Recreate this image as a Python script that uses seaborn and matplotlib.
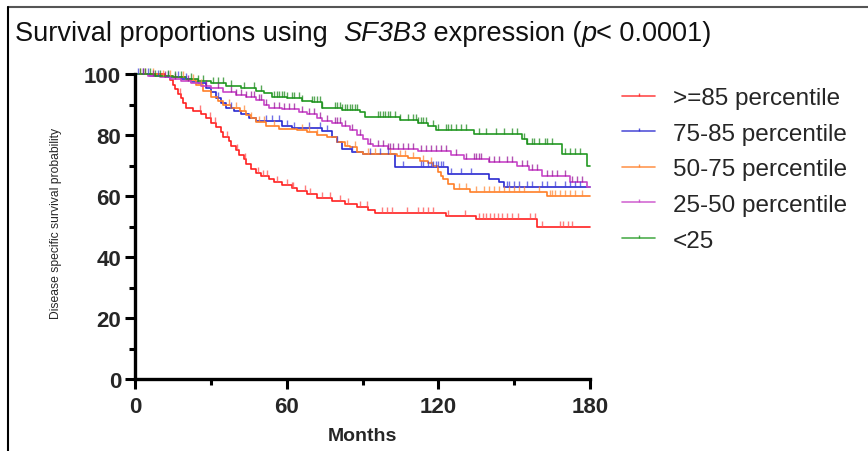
import numpy as np
import pandas as pd
import matplotlib
matplotlib.use("Agg")
import matplotlib.pyplot as plt
from matplotlib.lines import Line2D
import seaborn as sns

sns.set_theme(style="white")
plt.rcParams['font.family'] = ['Liberation Sans', 'DejaVu Sans']

groups = [">=85 percentile", "75-85 percentile", "50-75 percentile", "25-50 percentile", "<25"]
colors = ["#ff2020", "#2a2ad0", "#ff7f27", "#c845c8", "#229922"]
censor_colors = ["#ff5050", "#4040e0", "#ff8a3a", "#9a1a9a", "#1f8a1f"]

# step curves: event times (months) and survival (%) after each event
red_t = [0, 12, 14, 15, 16, 17, 18, 19, 20, 23, 26, 28, 30, 32, 34, 35, 37, 38, 40, 41, 43, 44, 46, 48, 50, 53, 55, 58, 62, 64, 68, 72, 78, 83, 88, 92, 95, 123, 135, 159]
red_s = [100, 99, 98, 96.5, 95, 93.5, 92, 90.5, 89, 88, 87, 85.5, 84, 82.5, 81, 79.5, 78, 76.5, 75, 73.5, 72, 70.5, 69, 67.5, 66.5, 65.5, 64.5, 63.5, 62.5, 61.5, 60.5, 59.5, 58.5, 57.5, 56.5, 55.5, 54.5, 53.5, 52.3, 50]
blue_t = [0, 6, 12, 18, 22, 25, 28, 30, 32, 34, 36, 39, 42, 45, 48, 58, 62, 74, 78, 80, 82, 86, 90, 103, 124, 140, 144, 146]
blue_s = [100, 99.5, 99, 98.5, 97.5, 97, 95.5, 94, 92, 90.5, 89, 88, 87, 85.7, 84.6, 83, 82.2, 81.3, 79.5, 77.7, 75.4, 74.5, 73.8, 69.5, 67.2, 65.5, 64.6, 63]
orange_t = [0, 10, 15, 20, 24, 27, 30, 33, 35, 38, 41.5, 44, 46, 48, 52, 57, 64, 68, 72, 76, 80, 83, 85, 88, 90, 103.5, 108, 112.7, 116, 118, 120, 121, 122, 124, 126, 132.5, 163]
orange_s = [100, 99.5, 99, 98, 96.5, 94.5, 92.5, 91, 90, 89, 88, 86.5, 85.5, 84.3, 83, 82, 81.5, 81, 80, 79.3, 77.7, 76.5, 76, 74.5, 73.8, 73, 72.3, 71.5, 70.8, 70, 68, 66.5, 65.6, 64, 62.3, 61.3, 60]
purple_t = [0, 5, 10, 14, 18, 22, 26, 30, 35, 40, 44, 48, 51, 53, 58, 65, 68, 72, 74, 78, 82, 85, 88, 90, 92, 94, 100, 112, 125, 130, 140, 151, 156, 161, 172, 179]
purple_s = [100, 99.5, 99, 98.5, 97.7, 97, 96, 95.3, 94, 93, 92.5, 91.5, 90, 89, 88.5, 87.5, 87, 85.7, 84.6, 83.8, 83, 81.5, 80, 78.7, 77, 76.4, 75.4, 74.8, 73.5, 72, 71, 70, 68.5, 66.6, 64.6, 63]
green_t = [0, 8, 15, 20, 25, 30, 36, 42, 48, 51, 54, 60, 66, 70, 74, 82, 89, 91, 105, 112, 116, 119, 134, 153, 155, 169, 179]
green_s = [100, 99.5, 99, 98.5, 97.7, 97, 96, 95.3, 94.5, 93.8, 92.5, 92, 91.3, 90.8, 89, 88.3, 87.5, 86, 84.8, 84, 83, 81.5, 80.3, 78.7, 77, 73.8, 70]

# censored observations (months)
red_c = [17.8, 25.7, 29.7, 31.6, 36.3, 40.2, 43.5, 48.8, 50.8, 52.1, 56, 60, 62, 62.6, 67.2, 69.2, 73.8, 77.1, 81.1, 84.4, 89, 91.6, 97.6, 99.6, 101.5, 107.5, 112, 114, 116, 118, 124, 130.5, 136, 137.5, 139, 140.5, 142, 143.5, 145, 147, 149, 151.6, 156.3, 158.2, 160.9, 168, 169.4, 171.4, 172.7]
blue_c = [1, 3, 5, 9, 13, 17, 20, 33, 38, 52, 54, 57, 60, 63, 69, 73, 76, 80, 86, 93, 97, 100, 106, 113, 114, 116, 117, 118, 119, 120, 121, 122, 125, 129, 133, 147, 148, 150, 152, 155, 157, 161, 163, 166, 170, 172, 174, 176]
orange_c = [2, 4, 7, 11, 14, 19, 23, 26, 37, 40, 43, 46, 49, 51, 55, 66, 69, 72, 84, 87, 92, 95, 101, 105, 107, 110, 114, 117, 128, 131, 135, 138, 140, 142, 144, 146, 148, 150, 152, 154, 160, 164, 165, 166, 168, 170, 172, 174, 177]
purple_c = [3, 7, 12, 16, 21, 28, 33, 38, 40, 42, 44, 46, 47, 49, 50, 52, 55, 57, 59, 61, 63, 66, 69, 71, 73, 76, 79, 80, 81, 83, 86, 89, 93, 96, 98, 100, 101, 102, 104, 106, 108, 110, 113, 115, 117, 119, 121, 123, 127, 131, 134, 135, 136, 137, 140, 142, 144, 147, 149, 153, 155, 157, 159, 163, 165, 167, 170, 173, 175, 177]
green_c = [2, 4, 6, 8, 10, 13, 16, 18, 22, 25, 27, 31, 33, 35, 38, 43, 47, 50, 55, 56, 57, 58, 59, 60, 62, 63, 65, 66, 70, 71, 72, 73, 74, 79, 80, 81, 82, 83, 84, 85, 86, 87, 88, 96, 97, 98, 99, 100, 101, 103, 105, 108, 110, 111, 112, 113, 114, 115, 118, 120, 123, 124, 125, 127, 129, 131, 136, 139, 143, 146, 149, 151, 154, 155, 157, 158, 160, 162, 163, 165, 170, 172, 174, 176]

x_ticks = [0, 60, 120, 180]
y_ticks = [0, 20, 40, 60, 80, 100]

steps = [(red_t, red_s), (blue_t, blue_s), (orange_t, orange_s), (purple_t, purple_s), (green_t, green_s)]
cens = [red_c, blue_c, orange_c, purple_c, green_c]
X_END = 180

rows = []
for g, (t, s) in zip(groups, steps):
    for ti, si in zip(list(t) + [X_END], list(s) + [s[-1]]):
        rows.append({"group": g, "t": ti, "s": si})
df = pd.DataFrame(rows)

fig = plt.figure(figsize=(8.68, 4.52), dpi=100)
ax = fig.add_axes([135/868, 1-380/452, 455/868, 305/452])

sns.lineplot(data=df, x="t", y="s", hue="group", hue_order=groups, palette=colors,
             estimator=None, drawstyle="steps-post", linewidth=1.2, ax=ax,
             legend=False, clip_on=False)

tick_marker = [(0, 0), (0, 1)]
for g, (t, s), c, col in zip(groups, steps, cens, censor_colors):
    t = np.asarray(t, float); s = np.asarray(s, float)
    c = np.asarray(c, float)
    idx = np.searchsorted(t, c, side="right") - 1
    ax.plot(c, s[idx], linestyle="none", marker=tick_marker, markersize=8,
            markeredgewidth=1.0, color=col, alpha=0.75, clip_on=False)

ax.set_xlim(0, 180)
ax.set_ylim(0, 100)
ax.set_xticks(x_ticks)
ax.set_yticks(y_ticks)
ax.set_xticks([30, 90, 150], minor=True)
ax.set_yticks([10, 30, 50, 70, 90], minor=True)
ax.set_xticklabels([str(v) for v in x_ticks], fontsize=16, fontweight="bold")
ax.set_yticklabels([str(v) for v in y_ticks], fontsize=16, fontweight="bold")
ax.tick_params(which="major", direction="out", length=7, width=2.2, color="black", pad=3,
               bottom=True, left=True)
ax.tick_params(axis="x", which="major", pad=5)
ax.tick_params(which="minor", direction="out", length=4, width=2.2, color="black",
               bottom=True, left=True)
for sp in ["top", "right"]:
    ax.spines[sp].set_visible(False)
for sp in ["left", "bottom"]:
    ax.spines[sp].set_linewidth(2.4)
    ax.spines[sp].set_color("black")
ax.set_xlabel("Months", fontsize=14, fontweight="bold")
ax.xaxis.set_label_coords((362-135)/455, -(437-380)/305)
ax.xaxis.label.set_va("center")
ax.set_ylabel("Disease specific survival probability", fontsize=8.7)
ax.yaxis.set_label_coords(-(135-56)/455, (380-223)/305)
ax.yaxis.label.set_va("center")

handles = [Line2D([0], [0], color=col, linewidth=1.2, marker=tick_marker, markersize=5,
                  markeredgewidth=1.0, alpha=0.8) for col in colors]
leg = ax.legend(handles, groups, loc="upper left", frameon=False, fontsize=17.5,
                handlelength=1.36, handletextpad=0.74, labelspacing=0.56, borderaxespad=0,
                borderpad=0)
leg.set_bbox_to_anchor((622/868, 1-88/452), transform=fig.transFigure)

# title built from pieces so that italic parts include digits
title_parts = [("Survival proportions using  ", "normal"), ("SF3B3", "italic"),
               (" expression (", "normal"), ("p", "italic"), ("< 0.0001)", "normal")]
fs_title = 19.5
prev = fig.text(15/868, 1-47/452, title_parts[0][0], fontsize=fs_title, va="bottom",
                ha="left", color="#111111", style=title_parts[0][1])
for txt, sty in title_parts[1:]:
    prev = ax.annotate(txt, xy=(1, 0), xycoords=prev, va="bottom", ha="left",
                       fontsize=fs_title, color="#111111", style=sty, annotation_clip=False)

fig.add_artist(Line2D([8/868, 1], [1-8/452, 1-8/452], transform=fig.transFigure, color="#555555", linewidth=1.5))
fig.add_artist(Line2D([8/868, 8/868], [0, 1-8/452], transform=fig.transFigure, color="black", linewidth=1.5))

fig.savefig("out.png", dpi=100)
